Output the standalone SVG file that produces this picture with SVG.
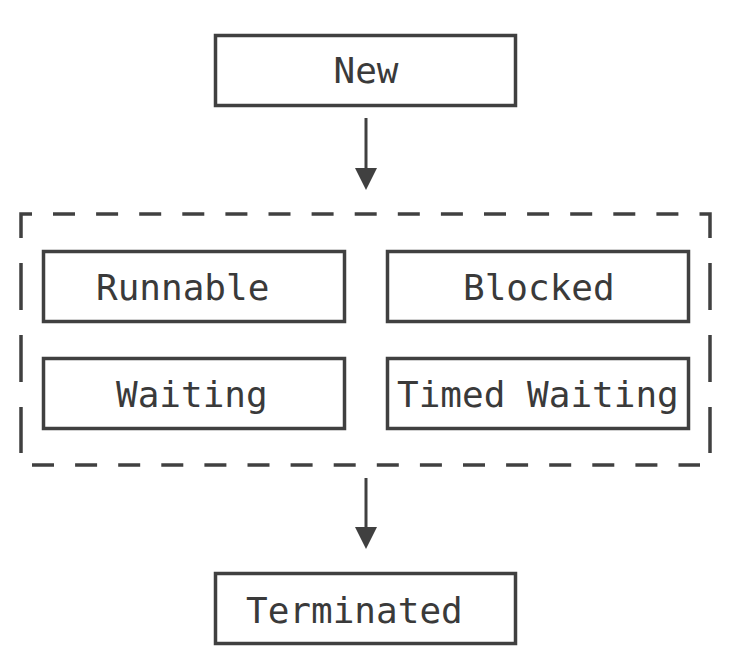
<svg xmlns="http://www.w3.org/2000/svg" width="737" height="664" viewBox="0 0 737 664">
<style>
.box{fill:#fff;stroke:#404040;stroke-width:3.5}
.lbl{font-family:"DejaVu Sans Mono","Liberation Mono",monospace;font-size:36px;fill:#3a3a3a}
.dh{fill:none;stroke:#404040;stroke-width:3.5;stroke-dasharray:22 21.1}
.dv{fill:none;stroke:#404040;stroke-width:3.5;stroke-dasharray:47 25}
.crn{fill:none;stroke:#404040;stroke-width:3.5}
.conn{stroke:#404040;stroke-width:3;fill:none}
</style>
<defs>
<marker id="ah" markerUnits="userSpaceOnUse" viewBox="0 0 22 22" refX="0" refY="11" markerWidth="22" markerHeight="22" orient="auto">
<path d="M0,0 L22,11 L0,22 Z" fill="#404040"/>
</marker>
</defs>
<rect width="737" height="664" fill="#fff"/>
<g id="group">
<path class="crn" d="M21,238 V214 H32"/>
<path class="crn" d="M700,214 H710 V238"/>
<path class="dh" d="M53,214 H700"/>
<path class="dh" d="M32,465 H700"/>
<path class="dv" d="M21,263 V453"/>
<path class="dv" d="M710,263 V453"/>
</g>
<g id="new"><rect class="box" x="215.5" y="35.5" width="300" height="70"/><text class="lbl" x="366" y="83" text-anchor="middle">New</text></g>
<g id="runnable"><rect class="box" x="43.5" y="251.5" width="301" height="70"/><text class="lbl" x="96" y="300">Runnable</text></g>
<g id="blocked"><rect class="box" x="387.5" y="251.5" width="301" height="70"/><text class="lbl" x="463" y="300">Blocked</text></g>
<g id="waiting"><rect class="box" x="43.5" y="358.5" width="301" height="70"/><text class="lbl" x="116" y="407">Waiting</text></g>
<g id="timed"><rect class="box" x="387.5" y="358.5" width="301" height="70"/><text class="lbl" x="397" y="407">Timed Waiting</text></g>
<g id="terminated"><rect class="box" x="215.5" y="573.5" width="300" height="70"/><text class="lbl" x="246" y="623">Terminated</text></g>
<g id="connectors">
<line class="conn" x1="366" y1="118" x2="366" y2="168" marker-end="url(#ah)"/>
<line class="conn" x1="366" y1="478" x2="366" y2="527" marker-end="url(#ah)"/>
</g>
</svg>
